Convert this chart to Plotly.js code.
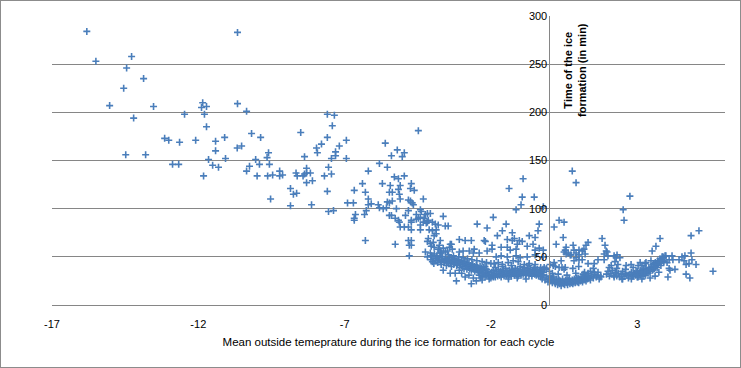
<!DOCTYPE html>
<html>
<head>
<meta charset="utf-8">
<script src="https://cdn.plot.ly/plotly-3.0.1.min.js"></script>
<style>
  html, body { margin: 0; padding: 0; background: #ffffff; }
  #chart { width: 741px; height: 368px; box-sizing: border-box; border: 1px solid #8c8c8c; }
</style>
</head>
<body>
<div id="chart"></div>
<script>
// Mean outside temperature (x) vs. time of the ice formation in minutes (y), per cycle.
const coldCycles = [
  [-15.81,284],[-15.50,253],[-14.28,258],[-14.45,246],[-13.87,235],[-14.55,225],[-15.03,207],[-13.53,206],
  [-14.21,194],[-11.85,210],[-11.89,205],[-11.72,206],[-12.47,198],[-11.79,198],[-11.72,185],[-13.15,173],
  [-13.01,171],[-12.64,169],[-12.09,171],[-11.41,170],[-11.10,174],[-11.41,160],[-14.48,156],[-13.80,156],
  [-11.65,151],[-11.07,152],[-11.51,145],[-11.31,143],[-12.88,146],[-12.67,146],[-11.82,134],
  [-10.66,283],[-10.66,209],[-10.35,201],[-10.18,178],[-9.87,174],[-10.67,163],[-10.52,165],[-9.60,158],
  [-9.65,153],[-10.04,151],[-10.25,144],[-9.91,146],[-9.57,146],[-10.35,139],[-9.99,134],[-9.63,134],
  [-9.46,135],[-9.22,139],[-9.22,134],[-9.12,135],[-8.66,137],[-8.62,134],[-8.85,121],[-8.75,115],
  [-8.64,116],[-9.53,110],[-8.50,179]
];
const midCycles = [
  [-7.59,198],[-7.35,197],[-7.42,186],[-7.59,174],[-7.79,167],[-7.96,163],[-7.93,158],[-7.18,165],
  [-6.94,171],[-7.31,159],[-7.31,155],[-7.45,152],[-6.94,152],[-8.37,154],[-8.42,134],[-8.37,136],
  [-8.30,142],[-8.30,137],[-8.17,137],[-8.10,129],[-8.30,127],[-7.69,134],[-7.55,143],[-7.45,136],
  [-6.19,139],[-6.39,126],[-6.29,117],[-6.67,119],[-7.59,118],[-8.85,103],[-8.13,104],[-7.55,97],
  [-7.38,98],[-6.90,106],[-6.70,106],[-6.19,110],[-6.19,104],[-6.26,98],[-6.32,94],[-6.63,94],[-6.67,90],
  [-4.48,181],[-5.61,168],[-5.20,161],[-5.40,155],[-4.96,158],[-5.03,154],[-5.81,147],[-5.54,143],
  [-5.30,133],[-5.16,131],[-4.96,134],[-5.71,126],[-5.44,124],[-4.72,126],[-5.10,124],[-5.47,117],
  [-5.37,117],[-5.16,120],[-4.75,121],[-4.62,119],[-5.13,115],[-5.10,110],[-4.31,110],[-4.82,109],
  [-4.75,108],[-5.54,107],[-5.37,108],[-5.47,106],[-6.09,105],[-5.85,104],[-5.81,101],[-5.68,100],
  [-5.57,101],[-4.69,106],[-4.65,104],[-5.23,100],[-4.82,98],[-4.41,99],[-4.38,97],[-6.67,88],
  [-5.47,93],[-5.40,93],[-4.92,93],[-5.27,90],[-5.16,88],[-5.13,86],[-5.10,81],[-4.96,81],
  [-4.55,94],[-4.48,90],[-4.55,89],[-4.41,91],[-4.72,88],[-4.72,86],[-4.24,94],[-4.17,95],
  [-4.07,95],[-4.28,90],[-4.21,85],[-4.17,86],[-4.41,83],[-4.41,78],[-4.72,78],[-4.82,81],
  [-4.31,86],[-4.14,88],[-4.00,86],[-3.90,84],[-3.80,83],[-3.63,92],[-3.56,82],[-3.46,82],
  [-4.11,78],[-4.00,77],[-3.87,78],[-3.94,72],[-4.14,69],[-4.17,66],[-4.07,64],[-3.97,65],
  [-3.73,67],[-3.87,74],[-4.04,61],[-3.94,60],[-3.80,58],[-3.73,56],[-3.63,59],[-3.42,60],
  [-3.35,63],[-3.56,55],[-3.73,54],[-3.08,68],[-6.29,67],[-5.27,63],[-4.82,67],[-4.79,62],
  [-4.72,62],[-4.72,67],[-4.79,51],[-4.24,55],[-4.07,54],[-4.04,51],[-4.17,50]
];
const nearZeroCycles = [
  [-0.90,131],[-1.38,121],[-0.93,112],[-0.52,112],[-0.21,102],[-1.14,99],[-0.97,104],[-1.92,91],
  [-2.47,84],[-2.13,80],[-1.48,84],[-1.61,77],[-1.27,75],[-1.78,72],[-2.23,67],[-2.88,67],[-2.67,67],
  [-3.39,63],[-3.76,62],[-1.44,68],[-1.27,67],[-1.20,69],[-1.03,67],[-0.93,66],[-1.10,63],[-1.34,57],
  [-1.14,58],[-1.44,60],[-1.65,60],[-1.96,62],[-1.96,58],[-2.13,56],[-2.40,54],[-2.57,58],[-2.60,54],
  [-2.74,56],[-2.95,56],[-3.08,55],[-3.32,58],[-3.49,56],[-2.19,66],[-0.39,77],[-0.35,84],[-0.69,72],
  [-0.49,70],[-0.56,63],[-0.76,61],[-0.49,57],[-0.21,57],[-0.35,59],[-0.21,50],[-0.49,52],[-0.76,50],
  [-1.00,49],[-1.14,51],[-1.44,50],[-1.65,51],[-1.82,50],[-1.89,43],[-1.75,44],[-1.61,42],[-1.41,44],
  [-1.24,46],[-1.07,45],[-0.86,42],[-0.69,43],[-0.49,42],[-0.18,39],[-0.52,37],[-0.66,33],[-0.86,35],
  [-3.63,36],[-3.22,33],[-3.18,25],[-2.88,29],[-2.67,22],[-3.08,36],[-3.39,33],[-2.43,36],[-2.13,33],
  [-2.06,27],[-1.92,29],
  [0.78,139],[0.91,127],[2.75,113],[2.52,99],[2.55,88],[0.33,88],[0.50,86],[0.16,81],[0.47,70],[0.23,63],
  [1.80,69],[1.32,65],[1.25,62],[1.18,58],[1.12,56],[1.22,53],[1.01,57],[0.81,62],[0.84,57],[0.91,54],
  [1.01,52],[0.74,52],[0.57,60],[0.54,57],[0.50,55],[0.57,53],[0.64,54],[0.71,52],[1.90,62],[1.94,56],
  [1.97,55],[1.87,53],[2.00,51],[2.21,51],[2.28,49],[2.24,45],[2.34,42],[2.11,41],[2.04,39],[1.87,47],
  [1.66,47],[1.53,43],[1.32,43],[1.12,47],[1.01,47],[0.91,49],[0.84,46],[0.40,46],[0.16,44],[0.33,39],
  [0.43,39],[0.54,39],[0.13,41],[0.02,42],[-0.11,37],[2.62,41],[2.79,42],[3.03,41],[3.16,41],[3.23,37],
  [3.27,43],[1.32,33],[1.53,34],[1.66,34],[1.15,32],[1.76,29],[0.98,28],[0.64,26],[0.30,25],[-0.04,27],
  [2.21,29],[2.48,27],[2.86,30],[2.31,52],[2.41,49],[2.86,39],[3.10,44],[4.77,43],[3.47,38]
];
const warmCycles = [
  [4.84,72],[5.11,77],[3.78,69],[3.64,61],[3.51,56],[4.84,54],[4.63,51],[4.53,50],[4.43,47],[4.19,51],
  [3.98,51],[3.88,50],[4.09,47],[4.22,47],[4.87,47],[4.60,46],[4.67,42],[5.01,42],[5.59,35],[4.67,32],
  [4.80,28],[4.05,29],[4.29,37],[4.09,38],[4.12,36],[3.30,44],[3.47,46],[3.57,43],[3.71,45],[3.78,44],
  [3.81,41],[3.68,39],[3.54,37],[3.44,35],[3.37,33],[3.27,31],[3.10,31],[2.96,35],[3.03,29],[3.16,27],
  [3.44,28],[3.61,30],[3.74,34],[3.85,47],[3.91,45],[4.02,44]
];
const bandAboveMinus2 = [
  [-4.05,47],[-4.00,45],[-3.98,50],[-3.95,43],[-3.90,48],[-3.88,46],[-3.85,51],[-3.82,44],[-3.80,47],
  [-3.76,49],[-3.72,45],[-3.70,42],[-3.68,47],[-3.65,50],[-3.60,44],[-3.58,46],[-3.55,48],[-3.52,41],
  [-3.50,45],[-3.47,47],[-3.44,43],[-3.42,49],[-3.40,46],[-3.37,44],[-3.35,40],[-3.32,47],[-3.30,45],
  [-3.27,42],[-3.25,48],[-3.22,44],[-3.20,46],[-3.17,41],[-3.15,43],[-3.12,47],[-3.10,45],[-3.07,39],
  [-3.05,42],[-3.02,44],[-3.00,46],[-2.97,40],[-2.95,43],[-2.92,38],[-2.90,45],[-2.87,41],[-2.85,44],
  [-2.82,37],[-2.80,42],[-2.77,40],[-2.75,43],[-2.72,38],[-2.70,41],[-2.67,36],[-2.65,39],[-2.62,42],
  [-2.60,37],[-2.57,40],[-2.55,35],[-2.52,38],[-2.50,41],[-2.47,36],[-2.45,39],[-2.42,34],[-2.40,37],
  [-2.37,40],[-2.35,35],[-2.32,38],[-2.30,33],[-2.27,36],[-2.25,39],[-2.20,34],[-2.15,37],
  [-3.93,53],[-3.70,54],[-3.45,52],[-3.28,51],[-3.10,50],[-2.95,49],[-2.80,48],[-2.65,47],[-2.48,46],
  [-2.30,45],[-2.15,44],[-2.00,43]
];
const bandMinus2To0 = [
  [-2.40,31],[-2.35,28],[-2.30,30],[-2.25,33],[-2.20,29],[-2.15,31],[-2.10,35],[-2.08,30],[-2.05,32],
  [-2.00,28],[-1.97,34],[-1.95,31],[-1.92,36],[-1.90,30],[-1.87,33],[-1.85,29],[-1.82,35],[-1.80,32],
  [-1.77,30],[-1.75,37],[-1.72,33],[-1.70,31],[-1.67,35],[-1.65,29],[-1.62,34],[-1.60,32],[-1.57,36],
  [-1.55,30],[-1.52,33],[-1.50,38],[-1.47,31],[-1.45,35],[-1.42,33],[-1.40,29],[-1.37,36],[-1.35,32],
  [-1.32,34],[-1.30,30],[-1.27,37],[-1.25,33],[-1.22,35],[-1.20,31],[-1.17,38],[-1.15,34],[-1.12,32],
  [-1.10,36],[-1.07,30],[-1.05,35],[-1.02,33],[-1.00,37],[-0.97,31],[-0.95,34],[-0.92,36],[-0.90,32],
  [-0.87,39],[-0.85,34],[-0.82,31],[-0.80,36],[-0.77,33],[-0.75,38],[-0.72,35],[-0.70,31],[-0.67,34],
  [-0.65,37],[-0.62,33],[-0.60,30],[-0.57,36],[-0.55,34],[-0.52,39],[-0.50,32],[-0.47,35],[-0.45,31],
  [-0.42,37],[-0.40,34],[-0.37,30],[-0.35,36],[-0.32,33],[-0.30,39],[-0.27,35],[-0.25,31],[-0.22,37],
  [-0.20,34],[-1.60,40],[-1.30,41],[-1.00,40],[-0.70,41],[-2.20,40],[-1.85,39],[-1.40,27],[-1.10,28],
  [-0.80,27],[-2.30,26],[-2.60,28],[-2.75,31],[-3.00,33],[-2.50,25]
];
const band0To2 = [
  [-0.30,29],[-0.25,27],[-0.20,31],[-0.15,26],[-0.10,29],[-0.05,24],[0.00,27],[0.02,30],[0.05,25],
  [0.08,28],[0.10,23],[0.13,26],[0.15,29],[0.18,24],[0.20,22],[0.23,27],[0.25,25],[0.28,21],[0.30,24],
  [0.33,26],[0.35,22],[0.38,25],[0.40,20],[0.42,23],[0.45,27],[0.48,22],[0.50,24],[0.52,21],[0.55,26],
  [0.58,23],[0.60,25],[0.62,21],[0.65,24],[0.68,27],[0.70,22],[0.73,25],[0.75,23],[0.78,26],[0.80,22],
  [0.83,24],[0.85,27],[0.88,23],[0.90,25],[0.93,28],[0.95,24],[0.98,26],[1.00,23],[1.03,27],[1.05,25],
  [1.08,29],[1.10,26],[1.13,24],[1.15,28],[1.18,26],[1.20,30],[1.23,27],[1.25,25],[1.28,29],[1.30,27],
  [1.33,31],[1.35,28],[1.40,26],[1.45,30],[1.50,28],[1.55,32],[1.60,29],[1.65,31],[1.70,27],[1.75,30],
  [0.10,33],[0.30,32],[0.60,31],[0.90,33],[1.20,34],[1.40,35],[0.00,35],[-0.10,38],[0.20,40],[0.50,37],
  [0.80,38],[1.00,40],[1.50,38]
];
const band2To4 = [
  [1.95,32],[2.00,35],[2.05,30],[2.10,33],[2.15,36],[2.20,31],[2.25,34],[2.30,30],[2.35,33],[2.40,29],
  [2.45,32],[2.50,35],[2.55,30],[2.60,33],[2.65,31],[2.70,28],[2.75,32],[2.80,34],[2.85,30],[2.90,33],
  [2.95,31],[3.00,35],[3.05,33],[3.10,36],[3.12,32],[3.15,34],[3.20,37],[3.22,33],[3.25,35],[3.30,38],
  [3.32,34],[3.35,36],[3.40,39],[3.42,35],[3.45,37],[3.50,40],[3.52,36],[3.55,42],[3.58,38],[3.60,40],
  [3.62,44],[3.65,41],[3.68,43],[3.70,46],[3.72,42],[3.75,45],[3.78,48],[3.80,44],[3.82,47],[3.85,50],
  [3.88,46],[3.90,49],[3.95,51],[2.50,27],[2.80,27],[3.00,29],[3.20,30],[2.30,38],[2.60,37]
];

const xTickVals = [-17, -12, -7, -2, 3];
const xTickText = ['-17', '-12', '-7', '-2', '3'];
const yTickVals = [0, 50, 100, 150, 200, 250, 300];
const xTitle = 'Mean outside temeprature during the ice formation for each cycle';
const yTitle = 'Time of the ice<br>formation (in min)';

const allCycles = [].concat(coldCycles, midCycles, nearZeroCycles, warmCycles,
                            bandAboveMinus2, bandMinus2To0, band0To2, band2To4);
const xs = allCycles.map(p => p[0]);
const ys = allCycles.map(p => p[1]);

const xMin = -17, xMax = 6;
const grid = '#868686';
const font = 'Liberation Sans, Arial, sans-serif';

const trace = {
  type: 'scatter', mode: 'markers', x: xs, y: ys,
  marker: { symbol: 'cross-thin', size: 5, color: '#4A7EBB', line: { color: '#4A7EBB', width: 1.6 } },
  hoverinfo: 'x+y', showlegend: false
};

const layout = {
  width: 739, height: 366,
  margin: { l: 51, r: 15, t: 15, b: 62 },
  paper_bgcolor: '#ffffff', plot_bgcolor: '#ffffff',
  font: { family: font, size: 11, color: '#000000' },
  xaxis: {
    range: [xMin, xMax], tickmode: 'array', tickvals: xTickVals, ticktext: xTickText,
    showgrid: false, zeroline: false, showline: true, linecolor: grid, linewidth: 1,
    ticks: '', ticklabelstandoff: 9,
    tickfont: { family: font, size: 11, color: '#000000' },
    title: { text: xTitle, font: { family: font, size: 11.5, color: '#000000' }, standoff: 8 },
    automargin: false
  },
  yaxis: {
    range: [0, 300], tickmode: 'array', tickvals: yTickVals,
    anchor: 'free', position: (0 - xMin) / (xMax - xMin),
    showgrid: true, gridcolor: grid, gridwidth: 1, zeroline: false,
    showline: true, linecolor: grid, linewidth: 1, ticks: '',
    tickfont: { family: font, size: 11, color: '#000000' },
    automargin: false
  },
  annotations: [{
    xref: 'paper', yref: 'paper', x: 0.777, y: 0.813, xanchor: 'center', yanchor: 'middle',
    text: '<b>' + yTitle + '</b>', textangle: -90, showarrow: false,
    font: { family: font, size: 11, color: '#000000' }, align: 'center'
  }]
};

Plotly.newPlot('chart', [trace], layout, { displayModeBar: false, staticPlot: true });
</script>
</body>
</html>
